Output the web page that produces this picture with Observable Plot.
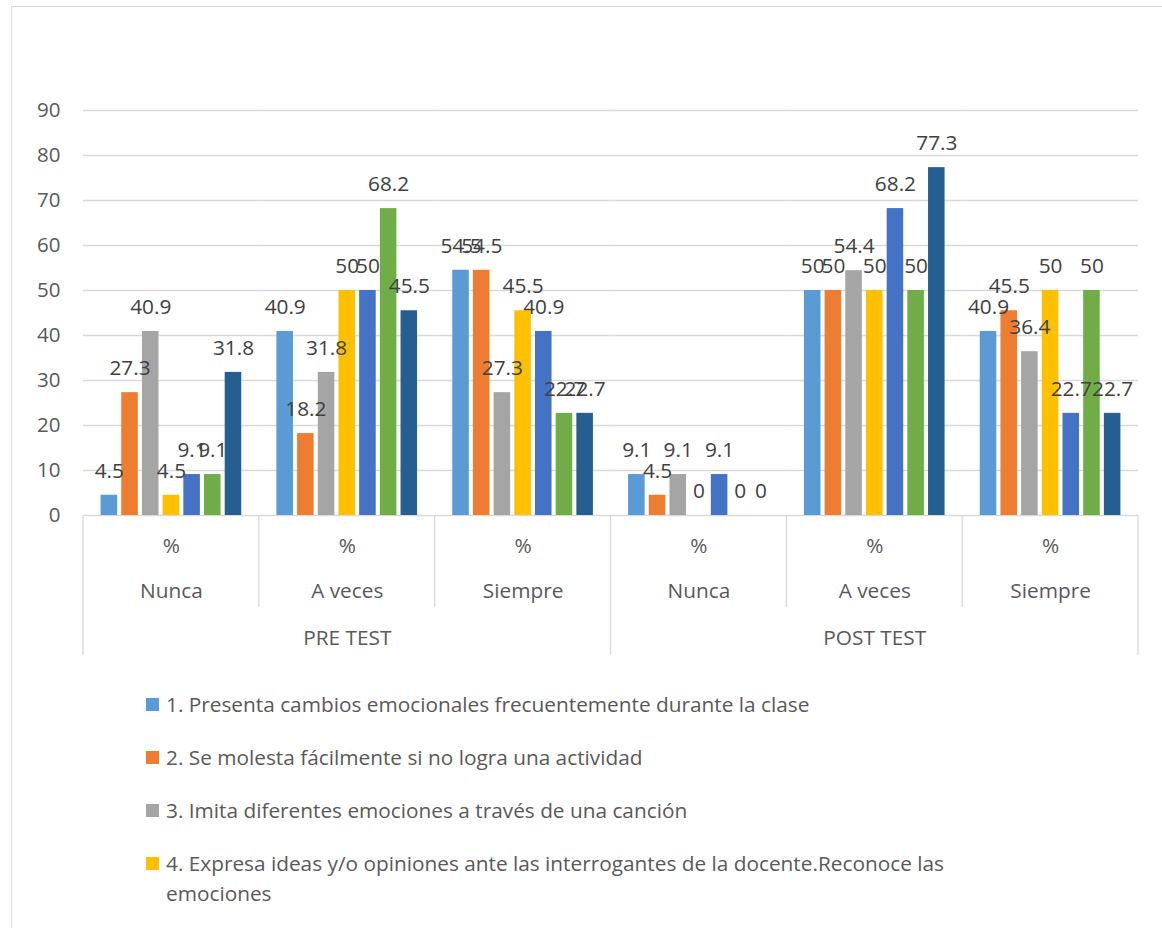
<!DOCTYPE html>
<html>
<head>
<meta charset="utf-8">
<script src="https://cdn.jsdelivr.net/npm/d3@7"></script>
<script src="https://cdn.jsdelivr.net/npm/@observablehq/plot@0.6"></script>
<style>
  html, body { margin: 0; padding: 0; background: #fff; overflow: hidden; }
  body { font-family: "Open Sans", sans-serif; width: 1162px; height: 928px; position: relative; }
  #frame { position: absolute; left: 11px; top: 6px; width: 1300px; height: 1100px; border: 1.5px solid #d9d9d9; box-sizing: border-box; z-index: 5; pointer-events: none; }
  #chart { position: absolute; left: 0; top: 0; }
  #legend { position: absolute; left: 146px; top: 689px; }
  .item { display: flex; align-items: flex-start; margin-bottom: 23px; font-size: 20.8px; line-height: 30px; color: #595959; }
  .sw { width: 13px; height: 13px; margin-top: 8.5px; margin-right: 7px; flex: none; }
  .lab { max-width: 810px; }
</style>
</head>
<body>
<div id="frame"></div>
<div id="chart"></div>
<div id="legend"></div>
<script>
// ---- Data ----
const tests = ["PRE TEST", "POST TEST"];
const responses = ["Nunca", "A veces", "Siempre"];
const unitLabel = "%";
const seriesNames = [
  "1. Presenta cambios emocionales frecuentemente durante la clase",
  "2. Se molesta fácilmente si no logra una actividad",
  "3. Imita diferentes emociones a través de una canción",
  "4. Expresa ideas y/o opiniones ante las interrogantes de la docente.Reconoce las emociones",
  "5.",
  "6.",
  "7."
];
const colors = ["#5B9BD5", "#ED7D31", "#A5A5A5", "#FFC000", "#4472C4", "#70AD47", "#255E91"];
// values per series, in order: PRE Nunca, PRE A veces, PRE Siempre, POST Nunca, POST A veces, POST Siempre
const s1 = [4.5, 40.9, 54.5, 9.1, 50, 40.9];
const s2 = [27.3, 18.2, 54.5, 4.5, 50, 45.5];
const s3 = [40.9, 31.8, 27.3, 9.1, 54.4, 36.4];
const s4 = [4.5, 50, 45.5, 0, 50, 50];
const s5 = [9.1, 50, 40.9, 9.1, 68.2, 22.7];
const s6 = [9.1, 68.2, 22.7, 0, 50, 50];
const s7 = [31.8, 45.5, 22.7, 0, 77.3, 22.7];
const yTicks = [0, 10, 20, 30, 40, 50, 60, 70, 80, 90];

const seriesValues = [s1, s2, s3, s4, s5, s6, s7];
const groups = tests.flatMap(t => responses.map(r => ({key: t + " · " + r, test: t, response: r})));
const data = groups.flatMap((g, gi) => seriesNames.map((s, si) => ({key: g.key, series: s, value: seriesValues[si][gi]})));

const plot = Plot.plot({
  width: 1162,
  height: 660,
  marginTop: 110,
  marginBottom: 145,
  marginLeft: 83,
  marginRight: 24,
  style: {fontFamily: "'Open Sans', sans-serif", fontSize: "20px", color: "#595959", background: "transparent", overflow: "visible"},
  fx: {domain: groups.map(g => g.key), padding: 0, axis: null, round: false},
  x: {domain: seriesNames, paddingInner: 0.2, paddingOuter: 0.85, axis: null, round: false},
  y: {domain: [0, 90], axis: null},
  color: {domain: seriesNames, range: colors},
  marks: [
    Plot.ruleY(yTicks, {stroke: "#d9d9d9", strokeWidth: 1.3}),
    Plot.axisY({ticks: yTicks, label: null, tickSize: 0, tickPadding: 23, fontSize: 20.5, color: "#595959"}),
    Plot.barY(data, {fx: "key", x: "series", y: "value", fill: "series"}),
    Plot.text(data, {fx: "key", x: "series", y: "value", text: d => String(d.value), dy: -24, fontSize: 20.8, fill: "#404040"}),
    Plot.text(groups, {fx: "key", text: () => unitLabel, frameAnchor: "bottom", dy: 37, fontSize: 20.8, fill: "#595959"}),
    Plot.text(groups, {fx: "key", text: "response", frameAnchor: "bottom", dy: 82, fontSize: 20.8, fill: "#595959"}),
    Plot.text(groups.filter(g => g.response === responses[1]), {fx: "key", text: "test", frameAnchor: "bottom", dy: 129, fontSize: 20.8, fill: "#595959"})
  ]
});
document.getElementById("chart").appendChild(plot);

// category table separators
const svgEl = plot.tagName.toLowerCase() === "svg" ? plot : plot.querySelector("svg");
const fxS = plot.scale("fx");
const yS = plot.scale("y");
const y0 = yS.apply(0);
const seps = groups.map(g => ({x: fxS.apply(g.key), long: g.response === responses[0]}));
seps.push({x: fxS.apply(groups[groups.length - 1].key) + fxS.bandwidth, long: true});
d3.select(svgEl).append("g").selectAll("line").data(seps).join("line")
  .attr("x1", d => d.x).attr("x2", d => d.x)
  .attr("y1", y0).attr("y2", d => d.long ? y0 + 140 : y0 + 92)
  .attr("stroke", "#d9d9d9").attr("stroke-width", 1.3);

// legend
const legend = d3.select("#legend");
seriesNames.forEach((n, i) => {
  const item = legend.append("div").attr("class", "item");
  item.append("span").attr("class", "sw").style("background", colors[i]);
  item.append("span").attr("class", "lab").text(n);
});
</script>
</body>
</html>
